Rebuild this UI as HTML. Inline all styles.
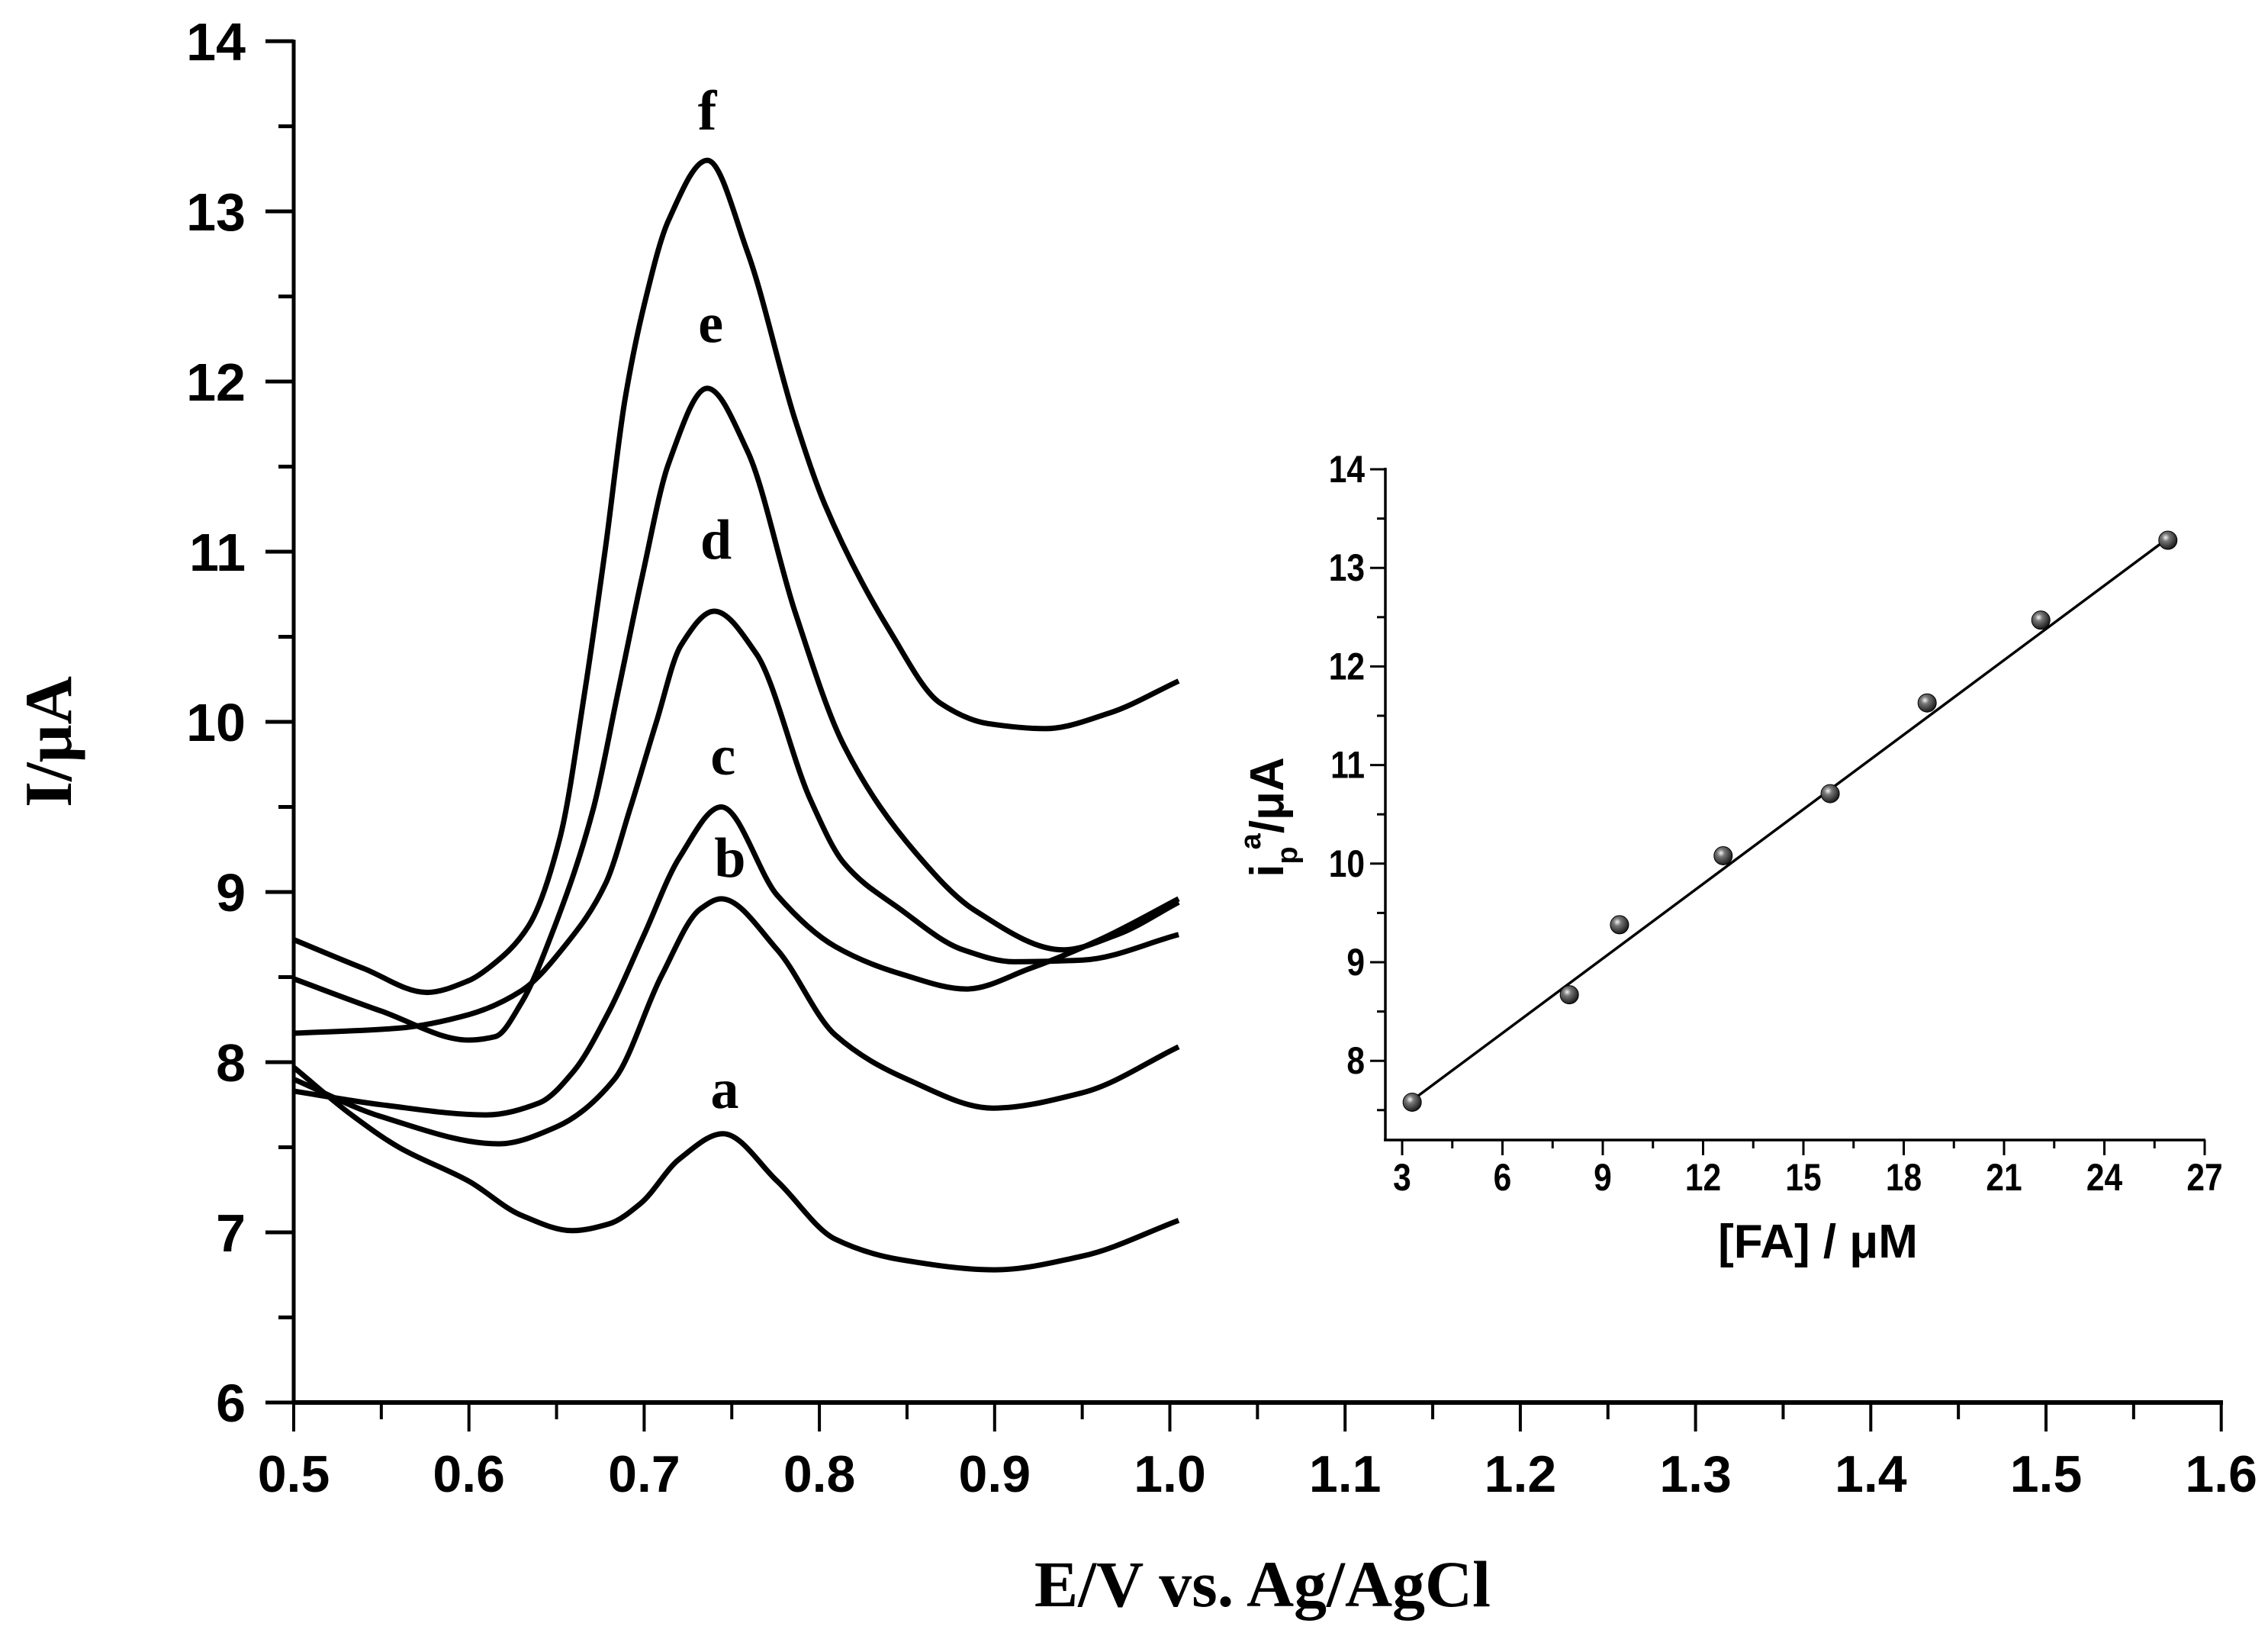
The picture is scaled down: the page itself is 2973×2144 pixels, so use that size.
<!DOCTYPE html>
<html><head><meta charset="utf-8"><style>
html,body{margin:0;padding:0;background:#fff;}
svg{display:block;}
</style></head><body>
<svg id="chart" width="2973" height="2144" viewBox="0 0 2973 2144" xmlns="http://www.w3.org/2000/svg">
<defs>
<radialGradient id="ball" cx="0.38" cy="0.35" r="0.7">
<stop offset="0" stop-color="#f4f4f4"/><stop offset="0.3" stop-color="#777"/><stop offset="1" stop-color="#111"/>
</radialGradient>
</defs>
<rect width="2973" height="2144" fill="#fff"/>
<g id="main"></g>
<g id="inset"></g>
</svg>
<script>
// ---- main chart data ----
const seriesNames = ['a','b','c','d','e','f'];
const aX = [0.5,0.533,0.56,0.6,0.63,0.659,0.68,0.698,0.72,0.745,0.776,0.809,0.846,0.9,0.95,1.005];
const aY = [7.97,7.69,7.5,7.3,7.1,7.01,7.05,7.17,7.43,7.58,7.3,6.96,6.84,6.78,6.86,7.07];
const bX = [0.5,0.55,0.617,0.65,0.683,0.71,0.732,0.744,0.776,0.809,0.85,0.899,0.95,1.005];
const bY = [7.9,7.68,7.52,7.62,7.9,8.51,8.9,8.96,8.66,8.16,7.9,7.73,7.82,8.09];
const cX = [0.5,0.55,0.61,0.64,0.66,0.68,0.70,0.72,0.744,0.776,0.809,0.846,0.884,0.92,0.96,1.005];
const cY = [7.83,7.75,7.69,7.76,7.95,8.3,8.75,9.2,9.5,8.98,8.68,8.52,8.43,8.55,8.72,8.96];
const dX = [0.5,0.56,0.6,0.63,0.656,0.678,0.692,0.707,0.721,0.740,0.764,0.795,0.814,0.846,0.882,0.911,0.95,1.005];
const dY = [8.17,8.2,8.28,8.42,8.7,9.05,9.49,10.0,10.45,10.65,10.4,9.54,9.17,8.9,8.66,8.59,8.6,8.75];
const eX = [0.5,0.55,0.6,0.615,0.63,0.649,0.671,0.685,0.699,0.714,0.736,0.759,0.786,0.814,0.855,0.889,0.939,0.97,1.005];
const eY = [8.49,8.3,8.13,8.15,8.35,8.8,9.49,10.17,10.86,11.52,11.96,11.59,10.65,9.86,9.23,8.89,8.66,8.75,8.94];
const fX = [0.5,0.54,0.576,0.6,0.612,0.634,0.652,0.666,0.678,0.689,0.70,0.714,0.736,0.759,0.786,0.803,0.841,0.869,0.896,0.929,0.965,1.005];
const fY = [8.72,8.55,8.41,8.48,8.56,8.8,9.32,10.17,11.03,11.89,12.45,12.95,13.3,12.76,11.78,11.28,10.52,10.11,9.99,9.96,10.05,10.24];
const xTicks = ['0.5','0.6','0.7','0.8','0.9','1.0','1.1','1.2','1.3','1.4','1.5','1.6'];
const yTicks = ['6','7','8','9','10','11','12','13','14'];
const labelText = ['a','b','c','d','e','f'];
const labelX = [0.746,0.749,0.745,0.741,0.738,0.736];
const labelY = [7.73,9.09,9.69,10.96,12.23,13.48];
// ---- inset data ----
const conc = [3.3,8.0,9.5,12.6,15.8,18.7,22.1,25.9];
const peakI = [7.58,8.67,9.38,10.08,10.71,11.63,12.47,13.28];
const fitX = [3.3,25.9];
const fitY = [7.6,13.3];
const insetXTicks = ['3','6','9','12','15','18','21','24','27'];
const insetYTicks = ['8','9','10','11','12','13','14'];

const NS='http://www.w3.org/2000/svg';
function mk(parent,tag,attrs,text){const e=document.createElementNS(NS,tag);for(const k in attrs)e.setAttribute(k,attrs[k]);if(text!==undefined)e.textContent=text;parent.appendChild(e);return e;}
const X=v=>385+(v-0.5)*2297;
const Y=v=>1838-(v-6)*223;
const main=document.getElementById('main');
function smooth(xs,ys,fx,fy){
  const px=xs.map(fx), py=ys.map(fy), n=px.length;
  const d=[],m=[];
  for(let i=0;i<n-1;i++)d.push((py[i+1]-py[i])/(px[i+1]-px[i]));
  m[0]=d[0];m[n-1]=d[n-2];
  for(let i=1;i<n-1;i++){ if(d[i-1]*d[i]<=0)m[i]=0; else { const h0=px[i]-px[i-1],h1=px[i+1]-px[i]; const w1=2*h1+h0,w2=h1+2*h0; m[i]=(w1+w2)/(w1/d[i-1]+w2/d[i]); } }
  let s='M'+px[0].toFixed(1)+','+py[0].toFixed(1);
  for(let i=0;i<n-1;i++){
    const h=(px[i+1]-px[i])/3;
    s+=`C${(px[i]+h).toFixed(1)},${(py[i]+m[i]*h).toFixed(1)} ${(px[i+1]-h).toFixed(1)},${(py[i+1]-m[i+1]*h).toFixed(1)} ${px[i+1].toFixed(1)},${py[i+1].toFixed(1)}`;
  }
  return s;
}
const allX=[aX,bX,cX,dX,eX,fX], allY=[aY,bY,cY,dY,eY,fY];
allX.forEach((xs,i)=>{
  const p=mk(main,'path',{d:smooth(xs,allY[i],X,Y),fill:'none',stroke:'#000','stroke-width':7,'stroke-linejoin':'round'});
  
  
});
labelText.forEach((t,i)=>{
  const e=mk(main,'text',{x:X(labelX[i]),y:Y(labelY[i]),'text-anchor':'middle','font-family':'Liberation Serif, serif','font-weight':'bold','font-size':74},t);
  
  
});
let ax=mk(main,'line',{x1:385,y1:52,x2:385,y2:1840,stroke:'#000','stroke-width':5});

ax=mk(main,'line',{x1:383,y1:1838,x2:2914,y2:1838,stroke:'#000','stroke-width':6});

xTicks.forEach((t,i)=>{
  const v=parseFloat(t),x=X(v);
  mk(main,'line',{x1:x,y1:1838,x2:x,y2:1876,stroke:'#000','stroke-width':4});
  if(i<xTicks.length-1){const xm=X(v+0.05);mk(main,'line',{x1:xm,y1:1838,x2:xm,y2:1860,stroke:'#000','stroke-width':4});}
  const e=mk(main,'text',{x:x,y:1955,'text-anchor':'middle','font-family':'Liberation Sans, sans-serif','font-weight':'bold','font-size':68},t);
  
  
});
yTicks.forEach((t,i)=>{
  const v=parseFloat(t),y=Y(v);
  mk(main,'line',{x1:348,y1:y,x2:385,y2:y,stroke:'#000','stroke-width':5});
  if(i<yTicks.length-1){const ym=Y(v+0.5);mk(main,'line',{x1:365,y1:ym,x2:385,y2:ym,stroke:'#000','stroke-width':5});}
  const e=mk(main,'text',{x:322,y:y+25,'text-anchor':'end','font-family':'Liberation Sans, sans-serif','font-weight':'bold','font-size':70},t);
  
  
});
let tt=mk(main,'text',{x:1655,y:2105,'text-anchor':'middle','font-family':'Liberation Serif, serif','font-weight':'bold','font-size':86},'E/V vs. Ag/AgCl');

tt=mk(main,'text',{x:0,y:0,'text-anchor':'middle','font-family':'Liberation Serif, serif','font-weight':'bold','font-size':88,transform:'translate(93,972) rotate(-90)'},'I/μA');


const inset=document.getElementById('inset');
const IX=v=>1838+(v-3)*131.5/3;
const IY=v=>615+(14-v)*129.2;
ax=mk(inset,'line',{x1:1816,y1:613,x2:1816,y2:1495,stroke:'#000','stroke-width':3.5});

ax=mk(inset,'line',{x1:1814,y1:1494,x2:2891,y2:1494,stroke:'#000','stroke-width':3.5});

insetXTicks.forEach((t,i)=>{
  const v=parseFloat(t),x=IX(v);
  mk(inset,'line',{x1:x,y1:1494,x2:x,y2:1514,stroke:'#000','stroke-width':3});
  if(i<insetXTicks.length-1){const xm=IX(v+1.5);mk(inset,'line',{x1:xm,y1:1494,x2:xm,y2:1505,stroke:'#000','stroke-width':3});}
  const e=mk(inset,'text',{x:x,y:1560,'text-anchor':'middle','font-family':'Liberation Sans, sans-serif','font-weight':'bold','font-size':50,transform:`translate(${x} 0) scale(0.85 1) translate(${-x} 0)`},t);
  
  
});
{const ym=IY(7.5);mk(inset,'line',{x1:1805,y1:ym,x2:1816,y2:ym,stroke:'#000','stroke-width':3});}
insetYTicks.forEach((t,i)=>{
  const v=parseFloat(t),y=IY(v);
  mk(inset,'line',{x1:1796,y1:y,x2:1816,y2:y,stroke:'#000','stroke-width':3});
  if(i<insetYTicks.length-1){const ym=IY(v+0.5);mk(inset,'line',{x1:1805,y1:ym,x2:1816,y2:ym,stroke:'#000','stroke-width':3});}
  const e=mk(inset,'text',{x:1789,y:y+17,'text-anchor':'end','font-family':'Liberation Sans, sans-serif','font-weight':'bold','font-size':50,transform:`translate(1789 0) scale(0.85 1) translate(-1789 0)`},t);
  
  
});
const fit=mk(inset,'line',{x1:IX(fitX[0]),y1:IY(fitY[0]),x2:IX(fitX[1]),y2:IY(fitY[1]),stroke:'#000','stroke-width':3.5});

conc.forEach((c,i)=>{
  const m=mk(inset,'circle',{cx:IX(c),cy:IY(peakI[i]),r:12,fill:'url(#ball)',stroke:'#000','stroke-width':1});
  
  
});
tt=mk(inset,'text',{x:2383,y:1648,'text-anchor':'middle','font-family':'Liberation Sans, sans-serif','font-weight':'bold','font-size':62},'[FA] / μM');

tt=mk(inset,'text',{x:0,y:0,'text-anchor':'middle','font-family':'Liberation Sans, sans-serif','font-weight':'bold','font-size':62,transform:'translate(1682,1071) rotate(-90)'});

mk(tt,'tspan',{},'i');
mk(tt,'tspan',{'font-size':38,dy:18},'p');
mk(tt,'tspan',{'font-size':38,dy:-48,dx:-4},'a');
mk(tt,'tspan',{dy:30},'/μA');
</script>
</body></html>
